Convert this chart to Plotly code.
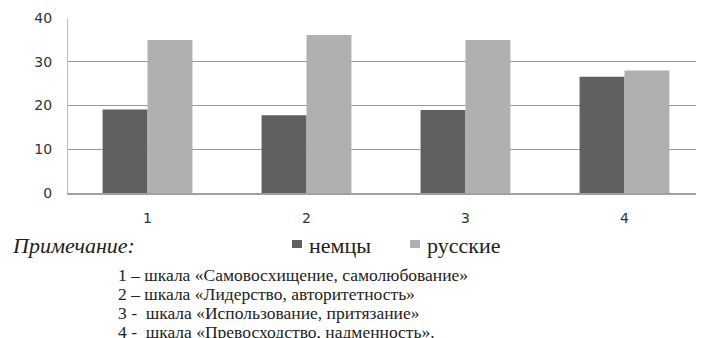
import plotly.graph_objects as go

# scales 1..4, mean scores per group
categories = ["1", "2", "3", "4"]
germans = [19.1, 17.8, 19.0, 26.6]
russians = [35.0, 36.1, 35.0, 28.0]
series_names = ["немцы", "русские"]
series_colors = ["#606060", "#b0b0b0"]

note_title = "Примечание:"
note_lines = [
    "1 – шкала «Самовосхищение, самолюбование»",
    "2 – шкала «Лидерство, авторитетность»",
    "3 -  шкала «Использование, притязание»",
    "4 -  шкала «Превосходство, надменность».",
]

# the page body has an 8px default margin, so the figure is drawn 8px in
OFF = 8
W, H = 704 - OFF, 338 - OFF
ML, MR, MT, MB = 68 - OFF, 0, 18 - OFF, 145
plot_w = W - ML - MR
plot_h = H - MT - MB


def px_x(x):
    # window pixel -> paper x
    return (x - OFF - ML) / plot_w


def px_y(y):
    # window pixel -> paper y
    return (H - MB - (y - OFF)) / plot_h


fig = go.Figure()
for name, vals, col in zip(series_names, [germans, russians], series_colors):
    fig.add_trace(go.Bar(x=categories, y=vals, name=name,
                         marker=dict(color=col, line=dict(width=0))))

serif = "Liberation Serif, Times New Roman, serif"
sans = "DejaVu Sans, Verdana, sans-serif"

annotations = [
    dict(text="<i>" + note_title + "</i>", x=px_x(10), y=px_y(245),
         xref="paper", yref="paper", xanchor="left", yanchor="middle",
         showarrow=False, font=dict(family=serif, size=22, color="#222")),
]
for i, line in enumerate(note_lines):
    annotations.append(dict(
        text=line, x=px_x(116), y=px_y(275 + i * 19), xref="paper", yref="paper",
        xanchor="left", yanchor="middle", showarrow=False,
        font=dict(family=serif, size=17.5, color="#222"),
    ))

# hand-drawn legend: small squares next to the labels
shapes = []
legend_x = [292, 410]
for name, col, lx in zip(series_names, series_colors, legend_x):
    shapes.append(dict(type="rect", xref="paper", yref="paper",
                       x0=px_x(lx), x1=px_x(lx + 10), y0=px_y(248), y1=px_y(240),
                       fillcolor=col, line=dict(width=0)))
    annotations.append(dict(text=name, x=px_x(lx + 15), y=px_y(245),
                            xref="paper", yref="paper", xanchor="left", yanchor="middle",
                            showarrow=False, font=dict(family=serif, size=22, color="#222")))

fig.update_layout(
    width=W, height=H,
    margin=dict(l=ML, r=MR, t=MT, b=MB, autoexpand=False),
    paper_bgcolor="white", plot_bgcolor="white",
    barmode="group", bargap=0.435, bargroupgap=0,
    showlegend=False,
    annotations=annotations,
    shapes=shapes,
    xaxis=dict(showgrid=False, showline=True, linecolor="#a0a0a0", linewidth=1.5,
               ticks="", ticklabelstandoff=11, automargin=False,
               tickfont=dict(family=sans, size=14, color="#333")),
    yaxis=dict(range=[0, 40], dtick=10, showgrid=True, gridcolor="#9a9a9a", gridwidth=1,
               showline=True, linecolor="#c0c0c0", linewidth=1, zeroline=False,
               ticks="", ticklabelstandoff=12, automargin=False,
               tickfont=dict(family=sans, size=14, color="#333")),
)

fig.write_html("out.html")
